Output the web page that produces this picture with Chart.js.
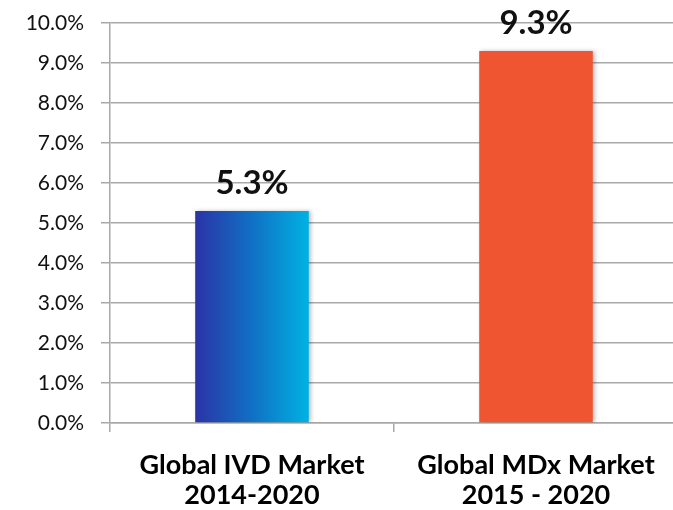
<!DOCTYPE html>
<html>
<head>
<meta charset="utf-8">
<script src="https://cdn.jsdelivr.net/npm/chart.js@4"></script>
<style>
  html, body { margin: 0; padding: 0; background: #fff; overflow: hidden; }
  #wrap { width: 680px; height: 510px; }
</style>
</head>
<body>
<div id="wrap"><canvas id="grafico"></canvas></div>
<script>
// dados
const categorias = [["Global IVD Market", "2014-2020"], ["Global MDx Market", "2015 - 2020"]];
const valores = [5.3, 9.3];
const rotulosValores = ["5.3%", "9.3%"];
const ticksY = [0, 1, 2, 3, 4, 5, 6, 7, 8, 9, 10];

const corLaranja = "#ef5531";
const corGrade = "#a9a9a9";
const fonte = "Lato, 'Open Sans', sans-serif";

// gradiente da primeira barra + rótulos acima das barras
const pluginBarras = {
    id: "pluginBarras",
    beforeDatasetsDraw(chart) {
        const ctx = chart.ctx;
        const barra = chart.getDatasetMeta(0).data[0];
        const x0 = barra.x - barra.width / 2;
        const x1 = barra.x + barra.width / 2;
        const grad = ctx.createLinearGradient(x0, 0, x1, 0);
        grad.addColorStop(0, "#2b33a6");
        grad.addColorStop(0.5, "#1070c4");
        grad.addColorStop(1, "#00b2e3");
        barra.options.backgroundColor = grad;
        ctx.save();
        ctx.shadowColor = "rgba(0,0,0,0.25)";
        ctx.shadowBlur = 4;
        ctx.shadowOffsetX = 2;
    },
    afterDatasetsDraw(chart) {
        const ctx = chart.ctx;
        ctx.restore();
        ctx.save();
        ctx.font = "bold 33px " + fonte;
        ctx.fillStyle = "#111";
        ctx.textAlign = "center";
        ctx.textBaseline = "alphabetic";
        chart.getDatasetMeta(0).data.forEach(function(barra, i) {
            ctx.fillText(rotulosValores[i], barra.x, barra.y - 17);
        });
        ctx.restore();
    }
};

const ctx = document.getElementById("grafico").getContext("2d");

new Chart(ctx, {
    type: "bar",
    data: {
        labels: categorias,
        datasets: [{
            data: valores,
            backgroundColor: ["#1070c4", corLaranja],
            borderWidth: 0,
            categoryPercentage: 1,
            barPercentage: 0.4
        }]
    },
    options: {
        responsive: true,
        maintainAspectRatio: false,
        animation: false,
        layout: { padding: { top: 23, right: 2, left: 0, bottom: 0 } },
        plugins: {
            legend: { display: false },
            tooltip: { enabled: false }
        },
        scales: {
            x: {
                afterFit: function(scale) { scale.height = 87; },
                grid: {
                    display: true,
                    drawOnChartArea: false,
                    drawTicks: true,
                    tickLength: 9,
                    color: corGrade,
                    lineWidth: 1.5
                },
                border: { display: true, color: corGrade, width: 1.5 },
                ticks: {
                    color: "#000",
                    padding: 18,
                    font: { family: fonte, size: 27, weight: "bold", lineHeight: 1.12 }
                }
            },
            y: {
                min: 0,
                max: 10,
                afterFit: function(scale) {
                    scale.width = 110;
                    scale.paddingTop = 5;
                },
                afterBuildTicks: function(scale) {
                    scale.ticks = ticksY.map(function(v) { return { value: v }; });
                },
                grid: {
                    color: corGrade,
                    lineWidth: 1.5,
                    drawTicks: true,
                    tickLength: 9
                },
                border: { display: true, color: corGrade, width: 1.5 },
                ticks: {
                    color: "#111",
                    padding: 17,
                    font: { family: fonte, size: 21 },
                    callback: function(v) { return v.toFixed(1) + "%"; }
                }
            }
        }
    },
    plugins: [pluginBarras]
});
</script>
</body>
</html>
